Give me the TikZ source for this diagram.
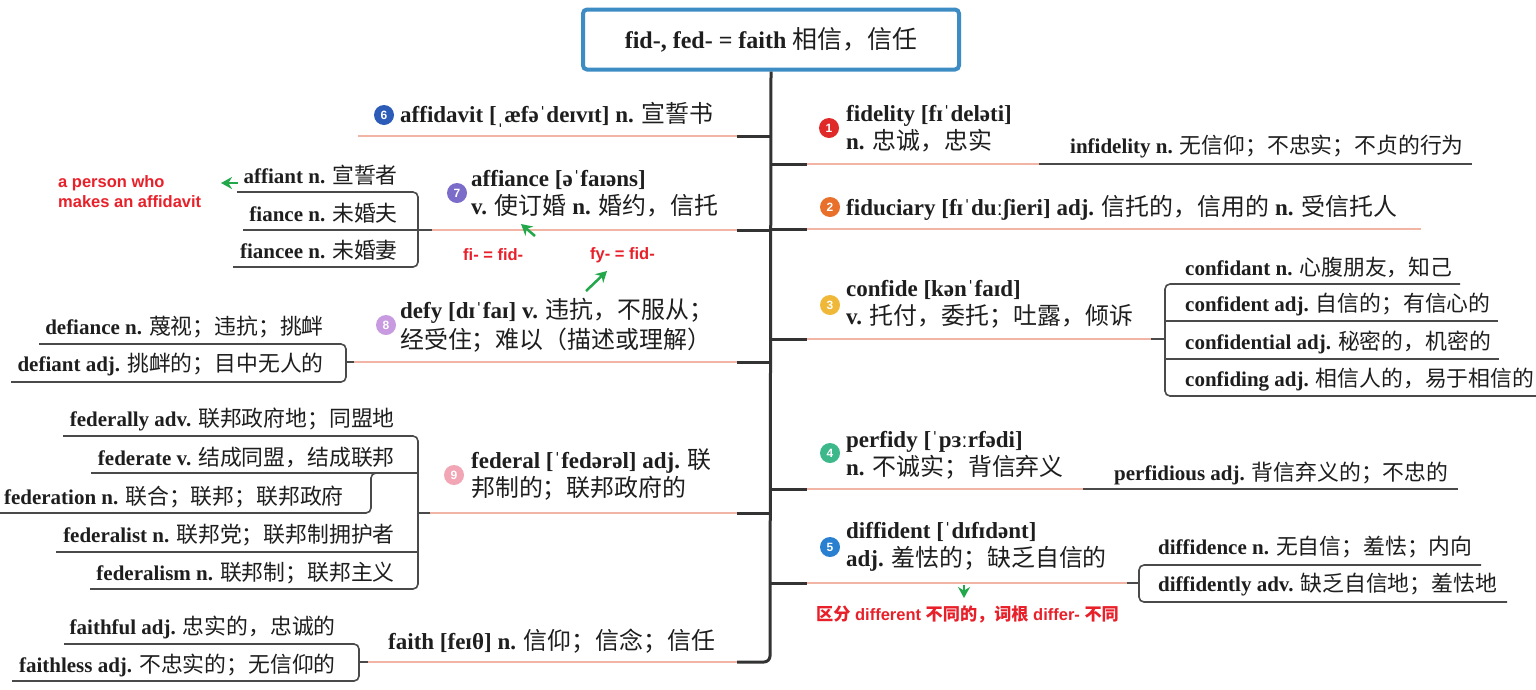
\documentclass[tikz,border=0pt]{standalone}
\usepackage{fontspec}
\usetikzlibrary{arrows.meta}
\setmainfont{Liberation Serif}
\newfontfamily\zhfont{Noto Sans CJK SC}[Scale=1.04]
\newfontfamily\rsans{Liberation Sans}
\newcommand\zh[1]{{\zhfont\mdseries #1}}
\newcommand\zhb[1]{{\zhfont\bfseries #1}}
\definecolor{dk}{HTML}{333333}
\definecolor{pk}{HTML}{F2B4A4}
\definecolor{sg}{HTML}{4A4A4A}
\definecolor{tb}{HTML}{3D8CC4}
\definecolor{rd}{HTML}{E8202A}
\definecolor{gn}{HTML}{22A84A}
\definecolor{txt}{HTML}{1E1E1E}
\definecolor{c1}{HTML}{E02A2A}
\definecolor{c2}{HTML}{E8702A}
\definecolor{c3}{HTML}{F0B838}
\definecolor{c4}{HTML}{3CB88A}
\definecolor{c5}{HTML}{2A80D0}
\definecolor{c6}{HTML}{2C5CB8}
\definecolor{c7}{HTML}{7B6CC9}
\definecolor{c8}{HTML}{C89AE0}
\definecolor{c9}{HTML}{F2A5B5}
\tikzset{
  trunkln/.style={draw=dk, line width=3pt},
  pinkln/.style={draw=pk, line width=2pt},
  subln/.style={draw=sg, line width=1.6pt, rounded corners=5pt},
  mtext/.style={anchor=west, inner sep=0pt, text=txt, align=left, font=\fontsize{23}{28}\selectfont\bfseries},
  stextL/.style={anchor=east, inner sep=0pt, text=txt, font=\fontsize{21}{24}\selectfont\bfseries},
  stextR/.style={anchor=west, inner sep=0pt, text=txt, font=\fontsize{21}{24}\selectfont\bfseries},
  numc/.style={circle, fill=#1, inner sep=0pt, minimum size=20pt, text=white, font=\rsans\bfseries\fontsize{12}{12}\selectfont},
  redtxt/.style={anchor=west, inner sep=0pt, text=rd, align=left, font=\rsans\bfseries\fontsize{16.5}{20}\selectfont},
  garrow/.style={draw=gn, line width=2.5pt, -{Stealth[length=11pt,width=12pt]}},
}
\begin{document}
\begin{tikzpicture}[x=1pt,y=-1pt]
\useasboundingbox[fill=white] (0,0) rectangle (1536,689);

% title
\node[draw=tb, line width=4pt, rounded corners=4pt, minimum width=376pt, minimum height=60pt, fill=white, inner sep=0pt, text=txt, font=\fontsize{24}{28}\selectfont] (title) at (771,39.5) {\textbf{fid-, fed- = faith} \zh{相信，信任}};

% trunk
\coordinate (tbot) at (770,662);
\coordinate (fstub) at (737,662);
\draw[trunkln, rounded corners=6pt] (title.south) -- (tbot) -- (fstub);
% right stubs
\foreach \yy in {164,229,339,489,583}{\draw[trunkln] (770,\yy) -- (807,\yy);}
% left stubs
\foreach \yy in {136,230,362,513}{\draw[trunkln] (770,\yy) -- (737,\yy);}

% ---------- right side ----------
% 1 fidelity
\draw[pinkln] (807,164) -- (1039,164);
\draw[subln] (1039,164) -- (1472,164);
\node[numc=c1] (n1) at (829,128) {1};
\node[mtext] (fidelity) at (846,129) {fidelity [fɪˈdeləti]\\n. \zh{忠诚，忠实}};
\node[stextR] (infidelity) at (1070,147) {infidelity n. \zh{无信仰；不忠实；不贞的行为}};

% 2 fiduciary
\draw[pinkln] (807,229) -- (1421,229);
\node[numc=c2] (n2) at (830,207) {2};
\node[mtext] (fiduciary) at (846,208) {fiduciary [fɪˈduːʃieri] adj. \zh{信托的，信用的} n. \zh{受信托人}};

% 3 confide
\draw[pinkln] (807,339) -- (1151,339);
\draw[subln] (1151,339) -- (1165,339);
\draw[subln] (1460,284) -- (1165,284) -- (1165,396) -- (1536,396);
\draw[subln] (1498,321) -- (1165,321);
\draw[subln] (1499,359) -- (1165,359);
\node[numc=c3] (n3) at (830,305) {3};
\node[mtext] (confide) at (846,304) {confide [kənˈfaɪd]\\v. \zh{托付，委托；吐露，倾诉}};
\node[stextR] (confidant) at (1185,267) {confidant n. \zh{心腹朋友，知己}};
\node[stextR] (confident) at (1185,305) {confident adj. \zh{自信的；有信心的}};
\node[stextR] (confidential) at (1185,342) {confidential adj. \zh{秘密的，机密的}};
\node[stextR] (confiding) at (1185,380) {confiding adj. \zh{相信人的，易于相信的}};

% 4 perfidy
\draw[pinkln] (807,489) -- (1083,489);
\draw[subln] (1083,489) -- (1458,489);
\node[numc=c4] (n4) at (830,453) {4};
\node[mtext] (perfidy) at (846,455) {perfidy [ˈpɜːrfədi]\\n. \zh{不诚实；背信弃义}};
\node[stextR] (perfidious) at (1114,473) {perfidious adj. \zh{背信弃义的；不忠的}};

% 5 diffident
\draw[pinkln] (807,583) -- (1127,583);
\draw[subln] (1127,583) -- (1139,583);
\draw[subln] (1481,565) -- (1139,565) -- (1139,602) -- (1507,602);
\node[numc=c5] (n5) at (830,547) {5};
\node[mtext] (diffident) at (846,547) {diffident [ˈdɪfɪdənt]\\adj. \zh{羞怯的；缺乏自信的}};
\node[stextR] (diffidence) at (1158,547) {diffidence n. \zh{无自信；羞怯；内向}};
\node[stextR] (diffidently) at (1158,585) {diffidently adv. \zh{缺乏自信地；羞怯地}};
\coordinate (ga1) at (964,585);
\coordinate (ga2) at (964,598);
\draw[garrow] (ga1) -- (ga2);
\node[redtxt] (diffnote) at (816,614) {\zhb{区分} different \zhb{不同的，词根} differ- \zhb{不同}};

% ---------- left side ----------
% 6 affidavit
\draw[pinkln] (737,136) -- (358,136);
\node[numc=c6] (n6) at (384,115) {6};
\node[mtext] (affidavit) at (400,115) {affidavit [ˌæfəˈdeɪvɪt] n. \zh{宣誓书}};

% 7 affiance
\draw[pinkln] (737,230) -- (432,230);
\draw[subln] (432,230) -- (243,230);
\draw[subln] (237,192) -- (418,192) -- (418,267) -- (233,267);
\node[numc=c7] (n7) at (457,193) {7};
\node[mtext] (affiance) at (471,194) {affiance [əˈfaɪəns]\\v. \zh{使订婚} n. \zh{婚约，信托}};
\node[stextL] (affiant) at (398,175) {affiant n. \zh{宣誓者}};
\node[stextL] (fiance) at (398,213) {fiance n. \zh{未婚夫}};
\node[stextL] (fiancee) at (398,250) {fiancee n. \zh{未婚妻}};
\node[redtxt] (person) at (58,192) {a person who\\makes an affidavit};
\coordinate (gb1) at (238,183);
\coordinate (gb2) at (221,183);
\draw[garrow] (gb1) -- (gb2);
\node[redtxt] (fi) at (463,255) {fi- = fid-};
\node[redtxt] (fy) at (590,255) {fy- = fid-};
\coordinate (gc1) at (535,236);
\coordinate (gc2) at (521,224);
\draw[garrow] (gc1) -- (gc2);
\coordinate (gd1) at (586,291);
\coordinate (gd2) at (607,271);
\draw[garrow] (gd1) -- (gd2);

% 8 defy
\draw[pinkln] (737,362) -- (354,362);
\draw[subln] (354,362) -- (346,362);
\draw[subln] (39,344) -- (346,344) -- (346,382) -- (11,382);
\node[numc=c8] (n8) at (386,325) {8};
\node[mtext, font=\fontsize{23}{30}\selectfont\bfseries] (defy) at (400,325) {defy [dɪˈfaɪ] v. \zh{违抗，不服从；}\\\zh{经受住；难以（描述或理解）}};
\node[stextL] (defiance) at (324,327) {defiance n. \zh{蔑视；违抗；挑衅}};
\node[stextL] (defiant) at (324,365) {defiant adj. \zh{挑衅的；目中无人的}};

% 9 federal
\draw[pinkln] (737,513) -- (430,513);
\draw[subln] (430,513) -- (418,513);
\draw[subln] (63,436) -- (418,436) -- (418,589) -- (90,589);
\draw[subln] (91,473) -- (418,473);
\draw[subln] (56,552) -- (418,552);
\draw[subln] (385,473) -- (371,473) -- (371,513) -- (0,513);
\node[numc=c9] (n9) at (454,475) {9};
\node[mtext] (federal) at (471,475) {federal [ˈfedərəl] adj. \zh{联}\\\zh{邦制的；联邦政府的}};
\node[stextL] (federally) at (395,419) {federally adv. \zh{联邦政府地；同盟地}};
\node[stextL] (federate) at (395,457) {federate v. \zh{结成同盟，结成联邦}};
\node[stextL] (federation) at (344,497) {federation n. \zh{联合；联邦；联邦政府}};
\node[stextL] (federalist) at (395,535) {federalist n. \zh{联邦党；联邦制拥护者}};
\node[stextL] (federalism) at (395,573) {federalism n. \zh{联邦制；联邦主义}};

% faith
\draw[pinkln] (fstub) -- (368,662);
\draw[subln] (368,662) -- (359,662);
\draw[subln] (64,644) -- (359,644) -- (359,681) -- (12,681);
\node[mtext] (faith) at (388,641) {faith [feɪθ] n. \zh{信仰；信念；信任}};
\node[stextL] (faithful) at (336,627) {faithful adj. \zh{忠实的，忠诚的}};
\node[stextL] (faithless) at (336,665) {faithless adj. \zh{不忠实的；无信仰的}};
\end{tikzpicture}
\end{document}
